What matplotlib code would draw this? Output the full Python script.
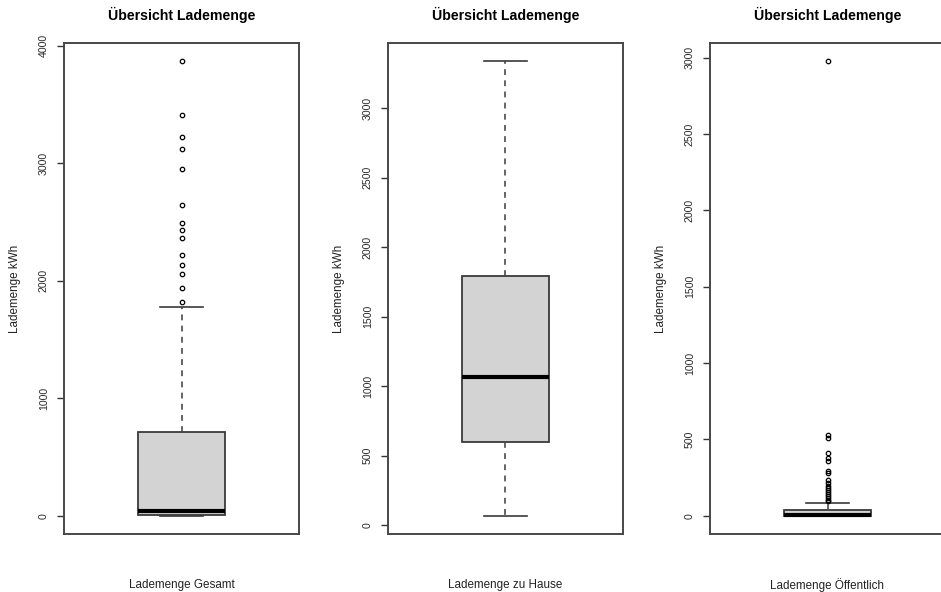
import matplotlib.pyplot as plt

plt.rcParams["font.family"] = ["Liberation Sans", "DejaVu Sans"]

TITLE = "Übersicht Lademenge"
Y_LABEL = "Lademenge kWh"
X_LABELS = ["Lademenge Gesamt", "Lademenge zu Hause", "Lademenge Öffentlich"]

# box statistics (kWh)
MINS = [0, 67, 0]
Q1S = [5, 602, 0]
MEDIANS = [42, 1063, 3]
Q3S = [714, 1796, 38]
MAXS = [1778, 3340, 83]

FLIERS_GESAMT = [1817, 1939, 2055, 2135, 2222, 2364, 2430, 2492, 2648,
                 2948, 3119, 3223, 3408, 3870]
FLIERS_HAUSE = []
FLIERS_OEFF = [98, 105, 118, 131, 144, 157, 170, 183, 196, 218, 236,
               279, 296, 362, 378, 410, 512, 530, 2978]
FLIERS = [FLIERS_GESAMT, FLIERS_HAUSE, FLIERS_OEFF]

Y_TICKS = [
    [0, 1000, 2000, 3000, 4000],
    [0, 500, 1000, 1500, 2000, 2500, 3000],
    [0, 500, 1000, 1500, 2000, 2500, 3000],
]

W, H = 941, 592
LEFTS = [64, 388, 710]
AX_W = 235
TOP, BOTTOM = 43, 534

FRAME = "#474747"

fig = plt.figure(figsize=(W / 100, H / 100), dpi=100)

for i in range(3):
    ax = fig.add_axes([LEFTS[i] / W, 1 - BOTTOM / H,
                       AX_W / W, (BOTTOM - TOP) / H])
    stats = {
        "med": MEDIANS[i], "q1": Q1S[i], "q3": Q3S[i],
        "whislo": MINS[i], "whishi": MAXS[i], "fliers": FLIERS[i],
    }
    ax.bxp([stats], positions=[1], widths=0.4, capwidths=[0.2],
           patch_artist=True, showfliers=True,
           boxprops=dict(facecolor="#d3d3d3", edgecolor="#3a3a3a", linewidth=1.3),
           medianprops=dict(color="black", linewidth=3.0, solid_capstyle="butt"),
           whiskerprops=dict(color="#4a4a4a", linewidth=1.2, linestyle=(0, (3.5, 3.2))),
           capprops=dict(color="#3a3a3a", linewidth=1.2),
           flierprops=dict(marker="o", markersize=3.2, markerfacecolor="none",
                           markeredgecolor="black", markeredgewidth=0.9))

    lo = min(MINS[i], min(FLIERS[i]) if FLIERS[i] else MINS[i])
    hi = max(MAXS[i], max(FLIERS[i]) if FLIERS[i] else MAXS[i])
    ext = 0.04 * (hi - lo)
    ax.set_ylim(lo - ext, hi + ext)
    ax.set_xlim(0.46, 1.54)

    ax.set_xticks([])
    ax.set_yticks(Y_TICKS[i])
    ax.set_yticklabels([str(t) for t in Y_TICKS[i]], rotation=90,
                       va="center", fontsize=7.6, color="#2a2a2a")
    ax.tick_params(axis="y", length=5, width=1.0, color="#333333", pad=6)

    for sp in ax.spines.values():
        sp.set_color(FRAME)
        sp.set_linewidth(1.4)

    ax.text(0.5, 1 + 28 / (BOTTOM - TOP), TITLE, transform=ax.transAxes,
            ha="center", va="center", fontsize=10.2, fontweight="bold")
    ax.text(0.5, -51 / (BOTTOM - TOP), X_LABELS[i], transform=ax.transAxes,
            ha="center", va="center", fontsize=8.4, color="#222222")
    ax.text(-49 / AX_W, 0.5, Y_LABEL, transform=ax.transAxes, rotation=90,
            ha="center", va="center", fontsize=8.4, color="#222222")

fig.savefig("out.png", dpi=100)
